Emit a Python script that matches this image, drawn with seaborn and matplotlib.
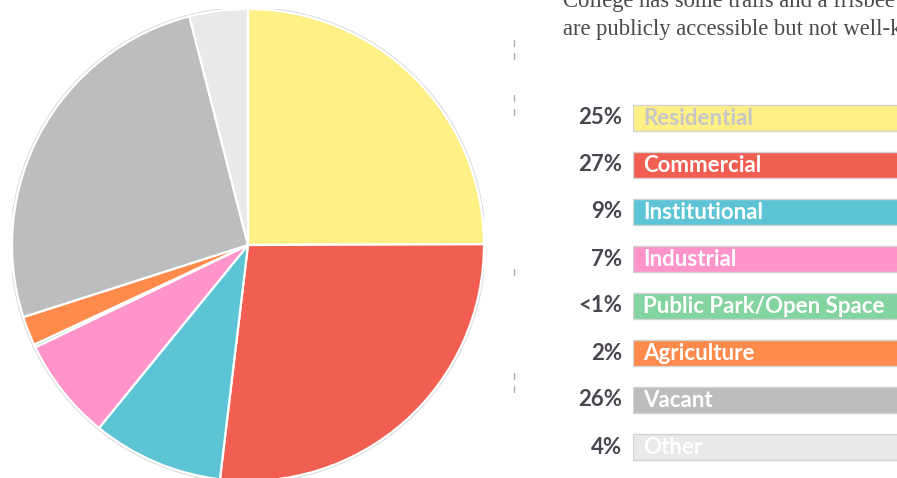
import matplotlib
matplotlib.use("Agg")
import matplotlib.pyplot as plt
from matplotlib.lines import Line2D
from matplotlib.patches import Circle
import seaborn as sns
import pandas as pd

# Land use shares
categories = ["Residential", "Commercial", "Institutional", "Industrial",
              "Public Park/Open Space", "Agriculture", "Vacant", "Other"]
shares = [25, 27, 9, 7, 0.2, 2, 26, 4]
share_labels = ["25%", "27%", "9%", "7%", "<1%", "2%", "26%", "4%"]
colors = ["#FEF084", "#F25F52", "#5DC4D5", "#FE94C9",
          "#83D4A0", "#FE8A4B", "#BCBDBF", "#E8E9EB"]
label_colors = ["#C6C6C9", "white", "white", "white",
                "white", "white", "white", "white"]

sns.set_theme(style="white")
plt.rcParams["font.family"] = ["Lato", "DejaVu Sans"]

W, H = 897, 478
fig = plt.figure(figsize=(W / 100, H / 100), dpi=100)
fig.patch.set_facecolor("white")


def px_axes(left, top, width, height):
    return fig.add_axes([left / W, (H - top - height) / H, width / W, height / H])


# Pie chart
cx, cy, r = 248, 245, 236
ax_pie = px_axes(cx - r, cy - r, 2 * r, 2 * r)
ax_pie.pie(shares, colors=colors, startangle=90, counterclock=False,
           radius=1.0,
           wedgeprops=dict(edgecolor="white", linewidth=1.6))
ax_pie.add_patch(Circle((0, 0), 1.006, fill=False, edgecolor="#DADADA",
                        linewidth=1.0, zorder=0))
ax_pie.set_xlim(-1.0, 1.0)
ax_pie.set_ylim(-1.0, 1.0)
ax_pie.set_aspect("equal")
ax_pie.axis("off")

# Legend swatches
row_h = 47
first_row = 118
ax_leg = px_axes(633, first_row - row_h / 2, 300, row_h * len(categories))
df = pd.DataFrame({"category": categories, "swatch": [1.0] * len(categories)})
sns.barplot(data=df, y="category", x="swatch", hue="category", palette=colors,
            saturation=1, orient="h", width=26 / row_h, legend=False, ax=ax_leg,
            edgecolor="#D2D2D2", linewidth=1.0)
ax_leg.set_xlim(0, 1.0)
ax_leg.set_ylim(len(categories) - 0.5, -0.5)
ax_leg.axis("off")
for i, (cat, lab, tc) in enumerate(zip(categories, share_labels, label_colors)):
    ax_leg.text(-11 / 300, i, lab, ha="right", va="center", fontsize=16,
                fontweight="bold", color="#4B4550")
    ax_leg.text(10 / 300, i + 0.02, cat, ha="left", va="center", fontsize=16,
                fontweight="bold", color=tc)

# Body text above the legend
serif = ["Liberation Serif", "DejaVu Serif"]
fig.text(563 / W, 1 - 7 / H, "College has some trails and a frisbee golf course that",
         ha="left", va="baseline", fontsize=16.3, color="#4A4A4A", family=serif)
fig.text(563 / W, 1 - 35 / H, "are publicly accessible but not well-known",
         ha="left", va="baseline", fontsize=16.3, color="#4A4A4A", family=serif)

# Faint margin marks
for y in [43, 56, 98, 112, 272, 376, 389]:
    fig.add_artist(Line2D([514 / W, 514 / W], [1 - (y - 3) / H, 1 - (y + 3) / H],
                          color="#B0B0B0", linewidth=1.0))

fig.savefig("out.png", dpi=100, facecolor="white")
